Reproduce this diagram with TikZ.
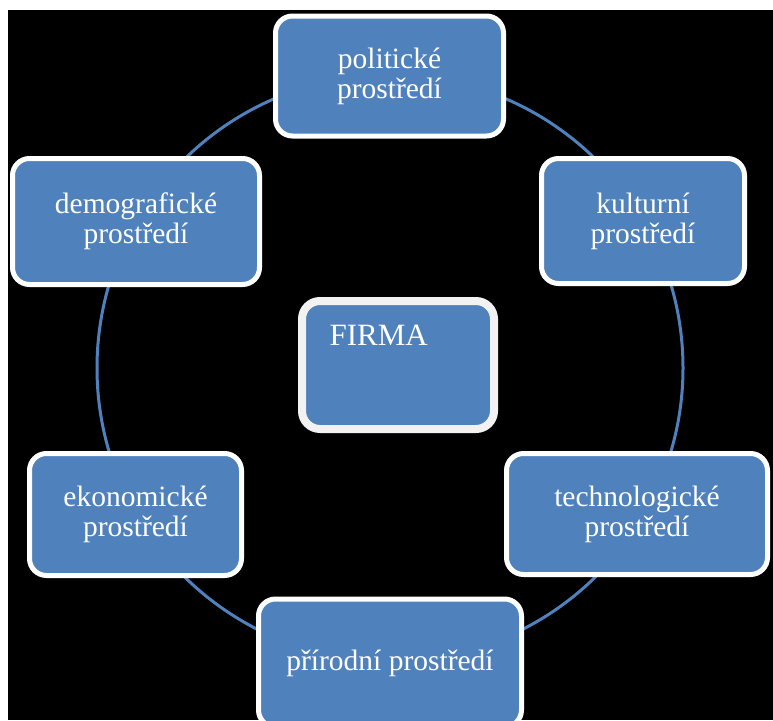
\documentclass[tikz,border=0pt]{standalone}
\usepackage{fontspec}
\setmainfont{Liberation Serif}
\usetikzlibrary{positioning}
\definecolor{boxblue}{HTML}{4F81BD}
\definecolor{rimgray}{HTML}{F2F2F2}

\begin{document}
\begin{tikzpicture}[x=1pt, y=-1pt,
	env/.style={draw=white, line width=5pt, fill=boxblue, rounded corners=17pt,
		text=white, align=center, inner sep=0pt,
		font=\fontsize{29.5}{30}\selectfont},
	core/.style={env, draw=rimgray, line width=8pt, rounded corners=18pt}]
	\useasboundingbox (0,0) rectangle (773,720);
	\clip (0,0) rectangle (773,720);
	\fill[white] (0,0) rectangle (773,720);
	\fill[black] (8,10) rectangle (773,720);
	
	% ring behind the boxes
	\coordinate (mid) at (390,368);
	\draw[boxblue, line width=3pt] (mid) circle[radius=293pt];
	
	\node[env, minimum width=228pt, minimum height=120pt] (pol) at (389.5,76) {politické\\prostředí};
	\node[env, minimum width=203pt, minimum height=125pt] (kul) at (643,221) {kulturní\\prostředí};
	\node[env, minimum width=247pt, minimum height=126pt] (dem) at (136,221.5) {demografické\\prostředí};
	\node[env, minimum width=212pt, minimum height=122pt] (eko) at (135.5,514.5) {ekonomické\\prostředí};
	\node[env, minimum width=261pt, minimum height=121pt] (tec) at (637,514) {technologické\\prostředí};
	\node[env, minimum width=263pt, minimum height=128pt] (pri) at (390,663) {přírodní prostředí};
	
	\node[core, minimum width=192pt, minimum height=128pt] (firma) at (398,365) {};
	\node[anchor=base west, text=white, font=\fontsize{31}{33}\selectfont]
		(firmatext) at ([xshift=28pt, yshift=-48pt]firma.north west) {FIRMA};
\end{tikzpicture}
\end{document}
